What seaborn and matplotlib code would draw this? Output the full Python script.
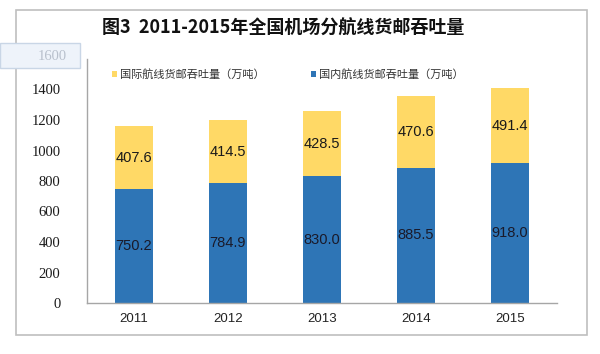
import matplotlib
matplotlib.use("Agg")
import matplotlib.pyplot as plt
import seaborn as sns
import pandas as pd
from matplotlib.patches import Rectangle, Patch

years = ["2011", "2012", "2013", "2014", "2015"]
domestic = [750.2, 784.9, 830.0, 885.5, 918.0]
international = [407.6, 414.5, 428.5, 470.6, 491.4]
yticks = [0, 200, 400, 600, 800, 1000, 1200, 1400]

title = "图3  2011-2015年全国机场分航线货邮吞吐量"
intl_name = "国际航线货邮吞吐量（万吨）"
dom_name = "国内航线货邮吞吐量（万吨）"

blue = "#2E75B6"
yellow = "#FFD966"

sns.set_theme(style="white")
plt.rcParams['font.family'] = ['Noto Sans CJK SC', 'DejaVu Sans']

df = pd.DataFrame({"year": years, "domestic": domestic, "international": international})
df["total"] = df["domestic"] + df["international"]

fig = plt.figure(figsize=(6.0, 3.54), dpi=100)
# outer frame
fig.patches.append(Rectangle((16/600, 1-335/354), (587-16)/600, (335-10)/354,
                             transform=fig.transFigure, fill=False,
                             edgecolor="#BFBFBF", linewidth=1.2, zorder=0))

ax = fig.add_axes([87/600, 1-303/354, (557-87)/600, (303-59)/354])
sns.barplot(data=df, x="year", y="total", color=yellow, width=0.4, ax=ax,
            saturation=1, edgecolor="none")
sns.barplot(data=df, x="year", y="domestic", color=blue, width=0.4, ax=ax,
            saturation=1, edgecolor="none")

ax.set_ylim(0, 1600)
ax.set_xlim(-0.5, 4.5)
ax.set_yticks(yticks)
ax.set_yticklabels([str(v) for v in yticks], fontsize=10.5, color="#1a1a1a",
                   family=['Liberation Serif', 'DejaVu Serif'])
ax.set_xticks(range(len(years)))
ax.set_xticklabels(years, fontsize=9.5, color="#222222",
                   family=['Liberation Sans', 'DejaVu Sans'])
ax.tick_params(axis='y', length=0, pad=19)
ax.tick_params(axis='x', length=0, pad=7)
ax.set_xlabel("")
ax.set_ylabel("")
for s in ["top", "right"]:
    ax.spines[s].set_visible(False)
for s in ["left", "bottom"]:
    ax.spines[s].set_color("#A6A6A6")
    ax.spines[s].set_linewidth(1.0)

for i in range(len(years)):
    d = domestic[i]
    it = international[i]
    ax.text(i, d / 2, f"{d:.1f}", ha="center", va="center", fontsize=10.5,
            color="#1a1a2a", family=['Liberation Sans', 'DejaVu Sans'])
    ax.text(i, d + it / 2, f"{it:.1f}", ha="center", va="center", fontsize=10.5,
            color="#1a1a1a", family=['Liberation Sans', 'DejaVu Sans'])

handles = [Patch(facecolor=yellow, edgecolor="none"), Patch(facecolor=blue, edgecolor="none")]
fig.legend(handles, [intl_name, dom_name], loc="center left",
           bbox_to_anchor=(102/600, 1-74/354), ncol=2, frameon=False,
           fontsize=8, handlelength=0.45, handleheight=0.45, handletextpad=0.3,
           columnspacing=4.1, labelcolor="#333333")

fig.text(283/600, 1-28/354, title, ha="center", va="center", fontsize=13,
         fontweight="bold", color="#111111")

# the odd overlay box with "1600"
fig.patches.append(Rectangle((0, 1-68/354), 80/600, 25/354, transform=fig.transFigure,
                             facecolor="#EEF3FA", edgecolor="#C9D6E6", linewidth=1.0, zorder=5))
fig.text(67/600, 1-57/354, "1600", ha="right", va="center", fontsize=10.5,
         color="#B8C0CC", family=['Liberation Serif', 'DejaVu Serif'], zorder=6)

fig.savefig("out.png", dpi=100)
